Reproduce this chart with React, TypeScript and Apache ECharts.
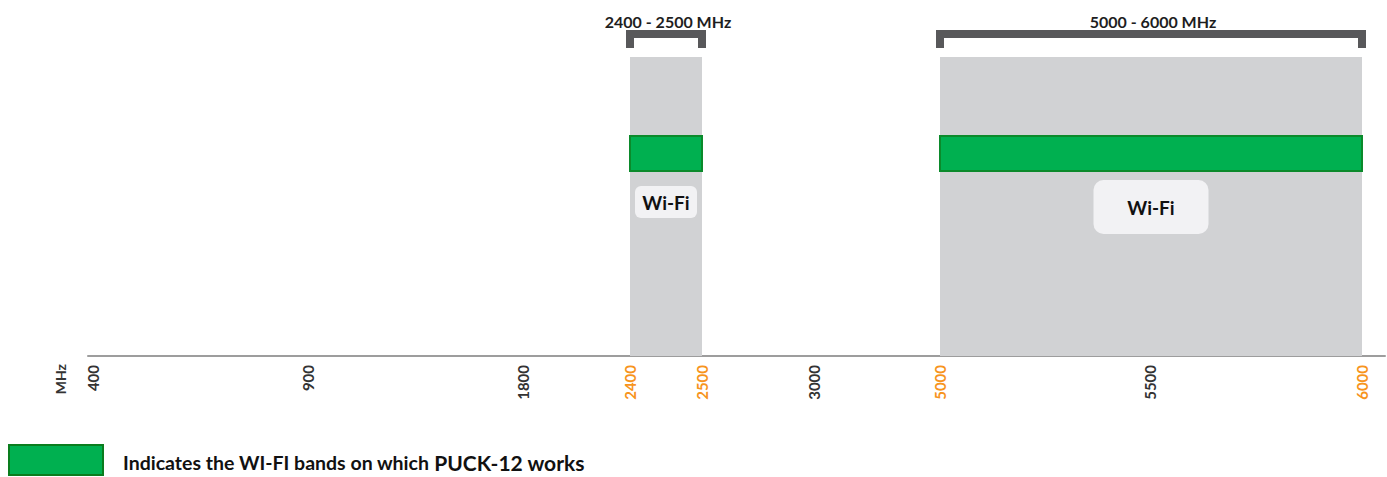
import React, { useEffect, useRef } from "react";
import * as echarts from "echarts";

// ---- data ----
const TICKS_MHZ = [400, 900, 1800, 2400, 2500, 3000, 5000, 5500, 6000];
// non-linear axis scale: axis units at which each tick frequency sits
const TICK_STOPS = [5, 220, 435, 542, 614, 726, 852, 1062, 1274];
const HIGHLIGHT_MHZ = [2400, 2500, 5000, 6000];
const BANDS_MHZ = [
  [2400, 2500],
  [5000, 6000],
];
const BAND_TITLES = ["2400 - 2500 MHz", "5000 - 6000 MHz"];
const BAND_NAMES = ["Wi-Fi", "Wi-Fi"];
const WORKING_MHZ = [
  [2400, 2500],
  [5000, 6000],
];
const LEGEND_TEXT = "Indicates the WI-FI bands on which ";
const LEGEND_DEVICE = "PUCK-12 works";
const AXIS_NAME = "MHz";

// ---- styles ----
const FONT = "Lato, 'DejaVu Sans', sans-serif";
const GREEN = "#00b050";
const GREEN_EDGE = "#0b8a2b";
const BAND_GREY = "#d1d2d4";
const BRACKET = "#58585a";
const ORANGE = "#f7941d";
const DARK = "#333333";
const LABEL_BOX = [
  { w: 62, h: 32, r: 6, dy: 145 },
  { w: 115, h: 54, r: 10, dy: 150 },
];

function toAxis(mhz: number): number {
  for (let i = 0; i < TICKS_MHZ.length - 1; i++) {
    const a = TICKS_MHZ[i];
    const b = TICKS_MHZ[i + 1];
    if (mhz >= a && mhz <= b) {
      return TICK_STOPS[i] + ((mhz - a) / (b - a)) * (TICK_STOPS[i + 1] - TICK_STOPS[i]);
    }
  }
  return mhz < TICKS_MHZ[0] ? TICK_STOPS[0] : TICK_STOPS[TICK_STOPS.length - 1];
}

export default function App() {
  const ref = useRef<HTMLDivElement>(null);

  useEffect(() => {
    document.body.style.margin = "0";
    if (!ref.current) return;
    const chart = echarts.init(ref.current, null, { renderer: "svg" });

    const bandData = BANDS_MHZ.map((b) => [toAxis(b[0]), toAxis(b[1])]);
    const workData = WORKING_MHZ.map((b) => [toAxis(b[0]), toAxis(b[1])]);

    const option: any = {
      animation: false,
      grid: { left: 88, right: 2, top: 57, bottom: 121 },
      xAxis: {
        type: "value",
        min: 0,
        max: 1297,
        splitLine: { show: false },
        axisTick: { show: false },
        axisLine: { show: true, lineStyle: { color: "#9d9d9d", width: 2 } },
        axisLabel: {
          customValues: TICK_STOPS,
          rotate: 90,
          margin: 9,
          formatter: (v: number) => {
            const i = TICK_STOPS.indexOf(v);
            if (i < 0) return "";
            const mhz = TICKS_MHZ[i];
            return HIGHLIGHT_MHZ.includes(mhz) ? `{o|${mhz}}` : `{d|${mhz}}`;
          },
          rich: {
            o: { color: ORANGE, fontWeight: "bold", fontSize: 15, fontFamily: FONT },
            d: { color: DARK, fontWeight: "bold", fontSize: 15, fontFamily: FONT },
          },
        },
      },
      yAxis: { type: "value", min: 0, max: 100, show: false },
      series: [
        {
          type: "custom",
          clip: false,
          data: bandData,
          encode: { x: [0, 1] },
          renderItem: (params: any, api: any) => {
            const i = params.dataIndex;
            const lt = api.coord([api.value(0), 100]);
            const rb = api.coord([api.value(1), 0]);
            const l = lt[0];
            const t = lt[1];
            const r = rb[0];
            const b = rb[1];
            const cx = (l + r) / 2;
            const box = LABEL_BOX[i];
            return {
              type: "group",
              children: [
                {
                  type: "rect",
                  shape: { x: l, y: t, width: r - l, height: b - t },
                  style: { fill: BAND_GREY },
                },
                {
                  type: "polyline",
                  shape: {
                    points: [
                      [l, t - 9],
                      [l, t - 23],
                      [r, t - 23],
                      [r, t - 9],
                    ],
                  },
                  style: { stroke: BRACKET, lineWidth: 8, fill: null, lineJoin: "miter", lineCap: "butt" },
                },
                {
                  type: "text",
                  style: {
                    text: BAND_TITLES[i],
                    x: cx + 2,
                    y: t - 36,
                    align: "center",
                    verticalAlign: "middle",
                    font: `bold 16px ${FONT}`,
                    fill: "#1e1e1e",
                  },
                },
                {
                  type: "rect",
                  shape: { x: cx - box.w / 2, y: t + box.dy - box.h / 2, width: box.w, height: box.h, r: box.r },
                  style: { fill: "#f2f2f4" },
                },
                {
                  type: "text",
                  style: {
                    text: BAND_NAMES[i],
                    x: cx,
                    y: t + box.dy,
                    align: "center",
                    verticalAlign: "middle",
                    font: `bold 19px ${FONT}`,
                    fill: "#111111",
                  },
                },
              ],
            };
          },
        },
        {
          type: "custom",
          clip: false,
          data: workData,
          encode: { x: [0, 1] },
          renderItem: (params: any, api: any) => {
            const lt = api.coord([api.value(0), 100]);
            const rb = api.coord([api.value(1), 0]);
            return {
              type: "rect",
              shape: { x: lt[0], y: lt[1] + 79, width: rb[0] - lt[0], height: 35 },
              style: { fill: GREEN, stroke: GREEN_EDGE, lineWidth: 2 },
            };
          },
        },
      ],
      graphic: [
        {
          type: "text",
          x: 60,
          y: 364,
          rotation: Math.PI / 2,
          style: {
            text: AXIS_NAME,
            align: "right",
            verticalAlign: "middle",
            font: `bold 14px ${FONT}`,
            fill: DARK,
          },
        },
        {
          type: "rect",
          shape: { x: 9, y: 445, width: 94, height: 30 },
          style: { fill: GREEN, stroke: "#0a7d1e", lineWidth: 2 },
        },
        {
          type: "text",
          x: 123,
          y: 462,
          style: {
            text: `{a|${LEGEND_TEXT}}{b|${LEGEND_DEVICE}}`,
            verticalAlign: "middle",
            rich: {
              a: { fontFamily: FONT, fontWeight: "bold", fontSize: 19.5, fill: "#111111", color: "#111111" },
              b: { fontFamily: FONT, fontWeight: "bold", fontSize: 21, fill: "#111111", color: "#111111" },
            },
          },
        },
      ],
    };

    chart.setOption(option);
    return () => chart.dispose();
  }, []);

  return <div ref={ref} style={{ width: 1387, height: 477 }} />;
}
